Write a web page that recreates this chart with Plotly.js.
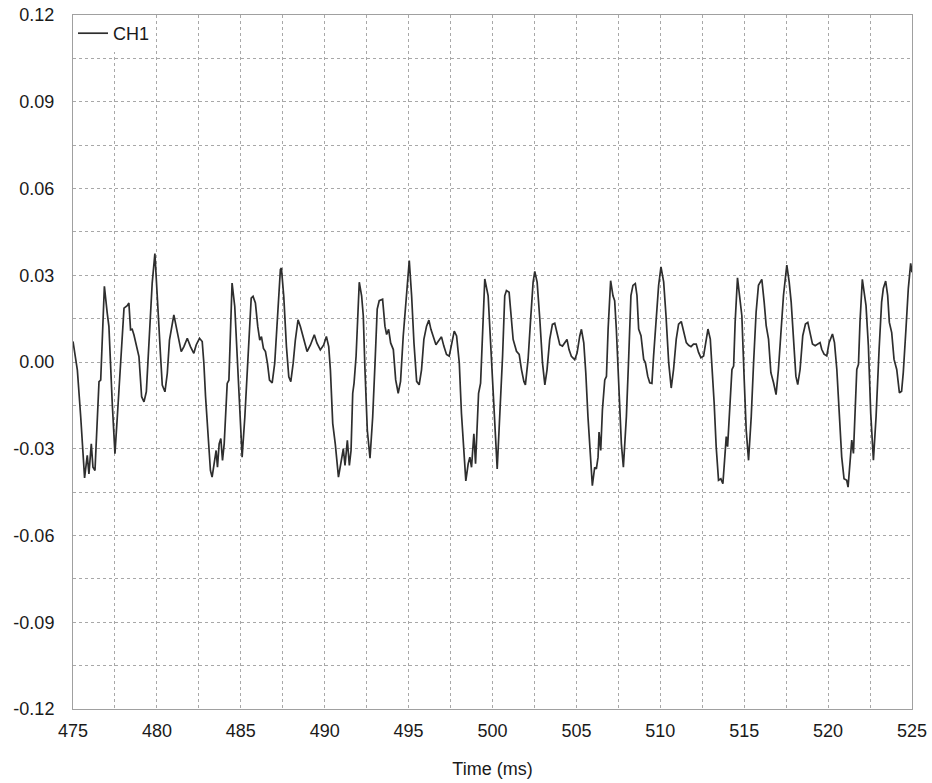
<!DOCTYPE html>
<html>
<head>
<meta charset="utf-8">
<script src="https://cdn.plot.ly/plotly-3.0.1.min.js"></script>
<style>
html,body{margin:0;padding:0;background:#fff;}
#chart{width:932px;height:783px;}
</style>
</head>
<body>
<div id="chart"></div>
<script>
// Time (ms)
const timeMs = [
475.00,475.26,475.46,475.69,475.85,475.95,476.09,476.19,476.31,476.45,476.55,476.65,476.75,476.87,477.04,477.14,477.34,477.50,477.64,477.84,
478.04,478.23,478.33,478.43,478.53,478.63,478.77,478.93,479.09,479.23,479.37,479.52,479.72,479.88,480.04,480.22,480.32,480.48,480.62,480.75,
481.01,481.15,481.31,481.45,481.61,481.81,482.00,482.20,482.34,482.54,482.70,482.80,482.90,483.06,483.19,483.29,483.43,483.53,483.61,483.71,
483.81,483.91,484.01,484.09,484.19,484.29,484.38,484.48,484.64,484.78,484.92,485.08,485.24,485.44,485.62,485.73,485.87,486.01,486.13,486.23,
486.35,486.47,486.59,486.71,486.87,487.02,487.18,487.36,487.42,487.56,487.72,487.86,487.98,488.12,488.25,488.41,488.55,488.75,488.95,489.15,
489.38,489.54,489.74,489.94,490.10,490.24,490.34,490.48,490.63,490.82,491.01,491.11,491.21,491.35,491.47,491.57,491.67,491.75,491.87,491.96,
492.06,492.20,492.30,492.40,492.54,492.70,492.86,493.00,493.13,493.25,493.45,493.59,493.69,493.81,493.93,494.09,494.23,494.38,494.52,494.68,
494.88,495.04,495.18,495.32,495.48,495.63,495.77,495.91,496.07,496.21,496.33,496.47,496.63,496.77,496.96,497.10,497.26,497.42,497.56,497.72,
497.86,498.02,498.15,498.29,498.41,498.55,498.65,498.75,498.89,498.99,499.07,499.17,499.29,499.40,499.54,499.74,499.88,500.04,500.18,500.28,
500.44,500.60,500.73,500.83,500.99,501.13,501.23,501.43,501.59,501.73,501.87,501.96,502.12,502.26,502.42,502.52,502.66,502.82,502.98,503.12,
503.25,503.41,503.57,503.71,503.87,504.01,504.17,504.31,504.44,504.56,504.70,504.90,505.04,505.20,505.30,505.44,505.56,505.69,505.83,505.95,
506.09,506.19,506.29,506.35,506.45,506.55,506.69,506.79,506.89,507.04,507.18,507.28,507.38,507.54,507.68,507.80,507.98,508.12,508.25,508.37,
508.51,508.61,508.71,508.85,509.01,509.11,509.25,509.37,509.50,509.60,509.76,509.90,510.04,510.20,510.34,510.50,510.65,510.79,510.95,511.09,
511.25,511.39,511.55,511.69,511.83,511.98,512.14,512.28,512.42,512.58,512.74,512.84,512.98,513.08,513.21,513.33,513.47,513.61,513.73,513.83,
513.93,514.01,514.13,514.27,514.37,514.46,514.60,514.76,514.86,515.00,515.12,515.26,515.42,515.56,515.71,515.85,516.05,516.19,516.31,516.45,
516.59,516.75,516.90,517.04,517.18,517.34,517.54,517.68,517.80,517.94,518.08,518.19,518.33,518.49,518.65,518.79,518.93,519.07,519.23,519.37,
519.52,519.62,519.76,519.92,520.06,520.26,520.38,520.52,520.65,520.81,520.95,521.11,521.19,521.31,521.41,521.51,521.61,521.71,521.81,521.90,
522.04,522.16,522.26,522.40,522.54,522.70,522.86,523.04,523.19,523.29,523.43,523.55,523.65,523.79,523.93,524.09,524.25,524.38,524.48,524.64,
524.78,524.92,525.00
];

// CH1 signal
const ch1 = [
0.0071,-0.0028,-0.0190,-0.0401,-0.0323,-0.0387,-0.0283,-0.0364,-0.0375,-0.0190,-0.0068,-0.0063,0.0111,0.0262,0.0169,0.0123,-0.0144,-0.0317,-0.0190,0.0019,
0.0186,0.0195,0.0204,0.0111,0.0113,0.0094,0.0053,0.0019,-0.0120,-0.0138,-0.0103,0.0076,0.0273,0.0375,0.0227,0.0019,-0.0080,-0.0103,-0.0039,0.0076,
0.0163,0.0123,0.0065,0.0036,0.0053,0.0082,0.0053,0.0030,0.0059,0.0082,0.0071,-0.0005,-0.0120,-0.0259,-0.0375,-0.0398,-0.0340,-0.0306,-0.0364,-0.0283,
-0.0265,-0.0340,-0.0283,-0.0190,-0.0074,-0.0063,0.0111,0.0273,0.0192,0.0030,-0.0167,-0.0329,-0.0190,0.0030,0.0221,0.0227,0.0204,0.0123,0.0076,0.0088,
0.0047,0.0036,-0.0005,-0.0063,-0.0072,-0.0005,0.0134,0.0320,0.0325,0.0227,0.0053,-0.0051,-0.0068,-0.0005,0.0076,0.0146,0.0123,0.0076,0.0036,0.0059,
0.0094,0.0065,0.0042,0.0059,0.0088,0.0053,-0.0028,-0.0213,-0.0283,-0.0398,-0.0341,-0.0300,-0.0358,-0.0271,-0.0358,-0.0306,-0.0108,-0.0073,0.0020,0.0171,
0.0276,0.0229,0.0159,-0.0027,-0.0236,-0.0333,-0.0190,-0.0003,0.0183,0.0212,0.0217,0.0124,0.0095,0.0113,0.0066,0.0043,-0.0062,-0.0108,-0.0067,0.0090,
0.0241,0.0351,0.0229,0.0066,-0.0067,-0.0079,-0.0027,0.0078,0.0124,0.0145,0.0113,0.0090,0.0060,0.0072,0.0087,0.0055,0.0026,0.0020,0.0066,0.0107,
0.0090,-0.0003,-0.0178,-0.0329,-0.0411,-0.0352,-0.0329,-0.0364,-0.0248,-0.0352,-0.0236,-0.0108,-0.0073,0.0113,0.0287,0.0229,0.0066,-0.0143,-0.0259,-0.0370,
-0.0190,0.0020,0.0229,0.0247,0.0241,0.0136,0.0078,0.0037,0.0026,-0.0027,-0.0067,-0.0079,0.0008,0.0136,0.0276,0.0313,0.0276,0.0148,-0.0003,-0.0079,
-0.0027,0.0078,0.0130,0.0134,0.0090,0.0060,0.0055,0.0066,0.0078,0.0043,0.0020,0.0008,0.0031,0.0090,0.0113,0.0066,-0.0038,-0.0190,-0.0341,-0.0428,
-0.0364,-0.0370,-0.0329,-0.0242,-0.0306,-0.0166,-0.0062,-0.0050,0.0113,0.0281,0.0229,0.0212,0.0113,-0.0120,-0.0283,-0.0364,-0.0188,0.0021,0.0230,0.0265,
0.0271,0.0230,0.0114,0.0091,0.0009,-0.0002,-0.0049,-0.0072,-0.0074,0.0021,0.0137,0.0265,0.0329,0.0277,0.0160,-0.0002,-0.0090,-0.0026,0.0079,0.0131,
0.0140,0.0102,0.0067,0.0058,0.0053,0.0062,0.0062,0.0033,0.0015,0.0021,0.0079,0.0114,0.0079,-0.0002,-0.0142,-0.0293,-0.0409,-0.0404,-0.0421,-0.0340,
-0.0258,-0.0293,-0.0177,-0.0026,-0.0014,0.0137,0.0291,0.0219,0.0160,-0.0060,-0.0235,-0.0340,-0.0188,-0.0002,0.0172,0.0265,0.0286,0.0207,0.0126,0.0079,
-0.0037,-0.0072,-0.0113,-0.0026,0.0091,0.0230,0.0335,0.0277,0.0207,0.0056,-0.0049,-0.0078,-0.0026,0.0091,0.0131,0.0137,0.0102,0.0062,0.0056,0.0062,
0.0067,0.0044,0.0027,0.0021,0.0067,0.0097,0.0067,-0.0026,-0.0165,-0.0328,-0.0404,-0.0409,-0.0433,-0.0328,-0.0270,-0.0316,-0.0188,-0.0026,-0.0008,0.0137,
0.0286,0.0230,0.0195,0.0056,-0.0177,-0.0340,-0.0188,0.0044,0.0207,0.0254,0.0280,0.0230,0.0137,0.0102,0.0009,-0.0026,-0.0107,-0.0101,-0.0037,0.0114,
0.0254,0.0341,0.0310
];

const seriesName = "CH1";
// gridline positions (every 2.5 ms) and their labels (labelled every 5 ms)
const xTickVals = [475, 477.5, 480, 482.5, 485, 487.5, 490, 492.5, 495, 497.5, 500, 502.5, 505, 507.5, 510, 512.5, 515, 517.5, 520, 522.5, 525];
const xTickText = ["475", "", "480", "", "485", "", "490", "", "495", "", "500", "", "505", "", "510", "", "515", "", "520", "", "525"];
// gridline positions (every 0.015) and their labels (labelled every 0.03)
const yTickVals = [0.12, 0.105, 0.09, 0.075, 0.06, 0.045, 0.03, 0.015, 0.00, -0.015, -0.03, -0.045, -0.06, -0.075, -0.09, -0.105, -0.12];
const yTickText = ["0.12", "", "0.09", "", "0.06", "", "0.03", "", "0.00", "", "-0.03", "", "-0.06", "", "-0.09", "", "-0.12"];
const xTitle = "Time (ms)";

const gridColor = "#a8a8a8";
const fontFam = "Liberation Sans, Arial, sans-serif";

const trace = {
  x: timeMs,
  y: ch1,
  type: "scatter",
  mode: "lines",
  name: seriesName,
  line: {color: "#2e2e2e", width: 1.7},
  showlegend: true
};

const layout = {
  width: 932,
  height: 783,
  margin: {l: 73, r: 20, t: 15, b: 74},
  paper_bgcolor: "#ffffff",
  plot_bgcolor: "#ffffff",
  font: {family: fontFam, size: 18, color: "#1a1a1a"},
  showlegend: true,
  legend: {
    x: 0, y: 1, xanchor: "left", yanchor: "top",
    bgcolor: "#ffffff", borderwidth: 0,
    font: {family: fontFam, size: 18, color: "#1a1a1a"},
    itemwidth: 30,
    tracegroupgap: 0
  },
  xaxis: {
    range: [475, 525],
    tickmode: "array",
    tickvals: xTickVals,
    ticktext: xTickText,
    ticks: "",
    showgrid: true,
    gridcolor: gridColor,
    gridwidth: 1,
    griddash: "dot",
    showline: true, linecolor: "#a0a0a0", linewidth: 1, mirror: true,
    zeroline: false,
    ticklabelstandoff: 5,
    tickfont: {family: fontFam, size: 18, color: "#1a1a1a"},
    title: {text: xTitle, font: {family: fontFam, size: 18, color: "#1a1a1a"}, standoff: 22}
  },
  yaxis: {
    range: [-0.12, 0.12],
    tickmode: "array",
    tickvals: yTickVals,
    ticktext: yTickText,
    ticks: "",
    showgrid: true,
    gridcolor: gridColor,
    gridwidth: 1,
    griddash: "dot",
    showline: true, linecolor: "#a0a0a0", linewidth: 1, mirror: true,
    zeroline: false,
    ticklabelstandoff: 14,
    tickfont: {family: fontFam, size: 18, color: "#1a1a1a"}
  }
};

Plotly.newPlot("chart", [trace], layout, {displayModeBar: false, staticPlot: true});
</script>
</body>
</html>
